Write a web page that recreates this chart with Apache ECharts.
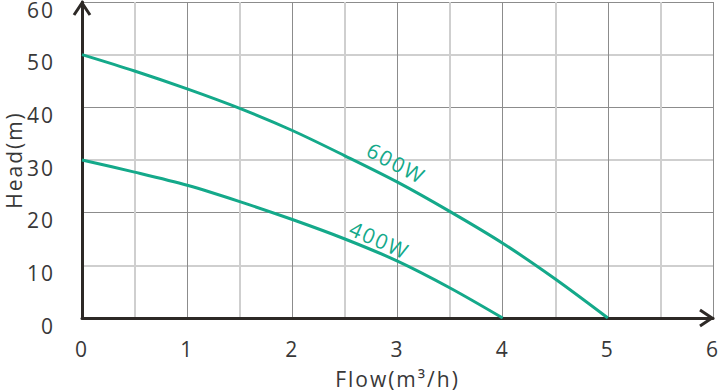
<!DOCTYPE html>
<html>
<head>
<meta charset="utf-8">
<script src="https://cdn.jsdelivr.net/npm/echarts@6/dist/echarts.min.js"></script>
<style>
html,body{margin:0;padding:0;background:#fff;}
#c{width:721px;height:392px;}
#c text{letter-spacing:2px;}
</style>
</head>
<body>
<div id="c"></div>
<script>
const flow = [0, 0.5, 1, 1.5, 2, 2.5, 3, 3.5, 4, 4.5, 5];
const head600 = [50, 46.9, 43.5, 39.8, 35.6, 30.8, 25.8, 20.2, 14.2, 7.4, 0];
const flow400 = [0, 0.5, 1, 1.5, 2, 2.5, 3, 3.5, 4];
const head400 = [30, 27.7, 25.2, 22.1, 18.7, 15.0, 10.8, 5.7, 0];
const xTicks = [0, 1, 2, 3, 4, 5, 6];
const yTicks = [0, 10, 20, 30, 40, 50, 60];
const seriesNames = ['600W', '400W'];

const FONT = 'Open Sans';
const TEXT = '#383838';
const LINE = '#14a98a';
const AXIS = '#2d2926';
const DARK = '#8c8c8c';
const LIGHT = '#cfcfcf';

const chart = echarts.init(document.getElementById('c'), null, {renderer: 'svg'});

const option = {
  animation: false,
  backgroundColor: '#fff',
  grid: {left: 82, right: 8, top: 2, bottom: 74, containLabel: false, outerBoundsMode: 'none'},
  xAxis: {
    type: 'value', min: xTicks[0], max: xTicks[xTicks.length - 1], interval: 1,
    name: 'Flow(m³/h)', nameLocation: 'middle', nameGap: 50,
    nameTextStyle: {fontFamily: FONT, fontSize: 21, color: TEXT},
    axisLine: {show: true, onZero: false, lineStyle: {color: AXIS, width: 3}},
    axisTick: {show: false},
    axisLabel: {fontFamily: FONT, fontSize: 21, color: TEXT, margin: 20},
    splitLine: {show: true, lineStyle: {color: DARK, width: 1}},
    minorTick: {show: false, splitNumber: 2},
    minorSplitLine: {show: true, lineStyle: {color: LIGHT, width: 2}}
  },
  yAxis: [{
    type: 'value', min: 0, max: 60, interval: 20,
    name: 'Head(m)', nameLocation: 'middle', nameGap: 58, nameRotate: 90,
    nameTextStyle: {fontFamily: FONT, fontSize: 21, color: TEXT},
    axisLine: {show: true, onZero: false, lineStyle: {color: AXIS, width: 3}},
    axisTick: {show: false},
    axisLabel: {show: false},
    splitLine: {show: true, lineStyle: {color: DARK, width: 1}},
    minorTick: {show: false, splitNumber: 2},
    minorSplitLine: {show: true, lineStyle: {color: LIGHT, width: 2}}
  }, {
    type: 'value', position: 'left', min: yTicks[0], max: yTicks[yTicks.length - 1], interval: 10,
    axisLine: {show: false}, axisTick: {show: false}, splitLine: {show: false},
    axisLabel: {fontFamily: FONT, fontSize: 21, color: TEXT, margin: 27, verticalAlign: 'top', lineHeight: 15}
  }],
  series: [{
    name: seriesNames[0], type: 'line', smooth: 0.3, symbol: 'none',
    lineStyle: {color: LINE, width: 3}, z: 5,
    data: flow.map((x, i) => [x, head600[i]])
  }, {
    name: seriesNames[1], type: 'line', smooth: 0.3, symbol: 'none',
    lineStyle: {color: LINE, width: 3}, z: 5,
    data: flow400.map((x, i) => [x, head400[i]])
  }]
};
chart.setOption(option);

function px(p) { return chart.convertToPixel({xAxisIndex: 0, yAxisIndex: 0}, p); }
const xe = px([6, 0]);
const ye = px([0, 60]);
const a1 = px([2.99, 29.4]);
const a2 = px([2.83, 14.8]);
chart.setOption({
  graphic: [
    {type: 'polyline', shape: {points: [[ye[0] - 8, ye[1] + 13], [ye[0], ye[1] + 1], [ye[0] + 8, ye[1] + 13]]},
     style: {stroke: AXIS, lineWidth: 3, fill: null}, z: 100},
    {type: 'polyline', shape: {points: [[xe[0] - 13, xe[1] - 8], [xe[0] - 1, xe[1]], [xe[0] - 13, xe[1] + 8]]},
     style: {stroke: AXIS, lineWidth: 3, fill: null}, z: 100},
    {type: 'text', x: a1[0], y: a1[1], rotation: -28 * Math.PI / 180,
     style: {text: seriesNames[0], fill: LINE, font: '21px "' + FONT + '"', align: 'center', verticalAlign: 'middle'}, z: 100},
    {type: 'text', x: a2[0], y: a2[1], rotation: -24 * Math.PI / 180,
     style: {text: seriesNames[1], fill: LINE, font: '21px "' + FONT + '"', align: 'center', verticalAlign: 'middle'}, z: 100}
  ]
});
</script>
</body>
</html>
